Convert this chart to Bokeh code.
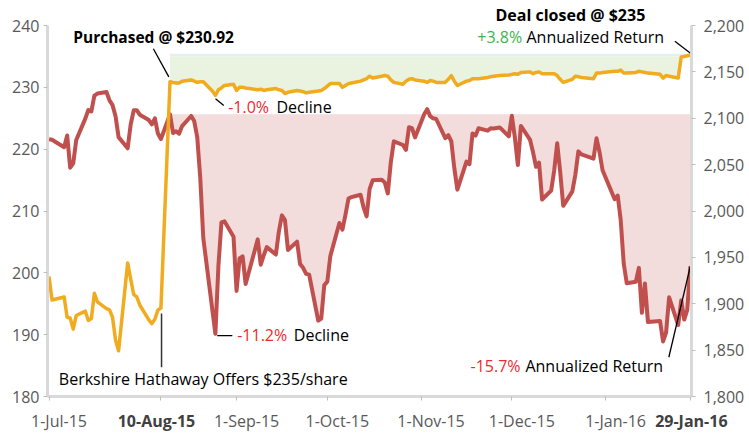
from datetime import date
from bokeh.plotting import figure
from bokeh.models import Range1d, LinearAxis, FixedTicker, NumeralTickFormatter, Label
from bokeh.embed import file_html
from bokeh.resources import INLINE

# ---------------- data ----------------
dates = [
    "2015-07-01", "2015-07-02", "2015-07-06", "2015-07-07", "2015-07-08", "2015-07-09", "2015-07-10",
    "2015-07-13", "2015-07-14", "2015-07-15", "2015-07-16", "2015-07-17", "2015-07-20", "2015-07-21",
    "2015-07-22", "2015-07-23", "2015-07-24", "2015-07-27", "2015-07-28", "2015-07-29", "2015-07-30",
    "2015-07-31",
    "2015-08-03", "2015-08-04", "2015-08-05", "2015-08-06", "2015-08-07", "2015-08-10", "2015-08-11",
    "2015-08-12", "2015-08-13", "2015-08-14", "2015-08-17", "2015-08-18", "2015-08-19", "2015-08-20",
    "2015-08-21", "2015-08-24", "2015-08-25", "2015-08-26", "2015-08-27", "2015-08-28", "2015-08-31",
    "2015-09-01", "2015-09-02", "2015-09-03", "2015-09-04", "2015-09-08", "2015-09-09", "2015-09-10",
    "2015-09-11", "2015-09-14", "2015-09-15", "2015-09-16", "2015-09-17", "2015-09-18", "2015-09-21",
    "2015-09-22", "2015-09-23", "2015-09-24", "2015-09-25", "2015-09-28", "2015-09-29", "2015-09-30",
    "2015-10-01", "2015-10-02", "2015-10-05", "2015-10-06", "2015-10-07", "2015-10-08", "2015-10-09",
    "2015-10-12", "2015-10-13", "2015-10-14", "2015-10-15", "2015-10-16", "2015-10-19", "2015-10-20",
    "2015-10-21", "2015-10-22", "2015-10-23", "2015-10-26", "2015-10-27", "2015-10-28", "2015-10-29",
    "2015-10-30",
    "2015-11-02", "2015-11-03", "2015-11-04", "2015-11-05", "2015-11-06", "2015-11-09", "2015-11-10",
    "2015-11-11", "2015-11-12", "2015-11-13", "2015-11-16", "2015-11-17", "2015-11-18", "2015-11-19",
    "2015-11-20", "2015-11-23", "2015-11-24", "2015-11-25", "2015-11-27", "2015-11-30",
    "2015-12-01", "2015-12-02", "2015-12-03", "2015-12-04", "2015-12-07", "2015-12-08", "2015-12-09",
    "2015-12-10", "2015-12-11", "2015-12-14", "2015-12-15", "2015-12-16", "2015-12-17", "2015-12-18",
    "2015-12-21", "2015-12-22", "2015-12-23", "2015-12-24", "2015-12-28", "2015-12-29", "2015-12-30",
    "2015-12-31",
    "2016-01-04", "2016-01-05", "2016-01-06", "2016-01-07", "2016-01-08", "2016-01-11", "2016-01-12",
    "2016-01-13", "2016-01-14", "2016-01-15", "2016-01-19", "2016-01-20", "2016-01-21", "2016-01-22",
    "2016-01-25", "2016-01-26", "2016-01-27", "2016-01-28", "2016-01-29",
]

# S&P 500 index (right axis)
sp500 = [
    2077.42, 2076.78, 2068.76, 2081.34, 2046.68, 2051.31, 2076.62, 2099.60, 2108.95, 2107.40, 2124.29,
    2126.64, 2128.28, 2119.21, 2114.15, 2102.15, 2079.65, 2067.64, 2093.25, 2108.57, 2108.63, 2103.84,
    2098.04, 2093.32, 2099.84, 2083.56, 2077.57, 2104.18, 2084.07, 2086.05, 2083.39, 2091.54, 2102.44,
    2096.92, 2079.61, 2035.73, 1970.89, 1893.21, 1867.61, 1940.51, 1987.66, 1988.87, 1972.18,
    1913.85, 1948.86, 1951.13, 1921.22, 1969.41, 1942.04, 1952.29, 1961.05, 1953.03, 1978.09, 1995.31,
    1990.20, 1958.03, 1966.97, 1942.74, 1938.76, 1932.24, 1931.34, 1881.77, 1884.09, 1920.03,
    1923.82, 1951.36, 1987.05, 1979.92, 1995.83, 2013.43, 2014.89, 2017.46, 2003.69, 1994.24, 2023.86,
    2033.11, 2033.66, 2030.77, 2018.94, 2052.51, 2075.15, 2071.18, 2065.89, 2090.35, 2089.41, 2079.36,
    2104.05, 2109.79, 2102.31, 2099.93, 2099.20, 2078.58, 2081.72, 2075.00, 2045.97, 2023.04, 2053.19,
    2050.44, 2083.58, 2081.24, 2089.17, 2086.59, 2089.14, 2088.87, 2090.11, 2080.41,
    2102.63, 2079.51, 2049.62, 2091.69, 2077.07, 2063.59, 2047.62, 2052.23, 2012.37, 2021.94, 2043.41,
    2073.07, 2041.89, 2005.55, 2021.15, 2038.97, 2064.29, 2060.99, 2056.50, 2078.36, 2063.36, 2043.94,
    2012.66, 2016.71, 1990.26, 1943.09, 1922.03, 1923.67, 1938.68, 1890.28, 1921.84, 1880.33, 1881.33,
    1859.33, 1868.99, 1906.90, 1877.08, 1903.63, 1882.95, 1893.36, 1940.24,
]

# Precision Castparts share price (left axis)
pcp = [
    199.4, 195.6, 196.1, 192.8, 192.7, 190.9, 193.1, 193.8, 192.3, 192.6, 196.7,
    195.3, 194.2, 194.0, 192.8, 189.1, 187.4, 201.6, 199.0, 196.5, 196.1, 194.8,
    192.4, 191.8, 192.5, 194.0, 194.3, 230.92, 230.8, 230.7, 230.7, 231.0, 231.2,
    231.0, 230.8, 230.9, 230.9, 229.4, 228.7, 229.6, 229.9, 230.3, 230.5,
    229.5, 230.0, 230.0, 229.9, 229.6, 229.7, 229.5, 229.6, 229.8, 229.6, 229.5,
    229.0, 229.2, 229.5, 229.4, 229.3, 229.1, 229.2, 229.4, 229.5, 229.8,
    230.2, 230.6, 230.6, 230.0, 230.3, 230.6, 230.7, 231.0, 231.2, 231.4, 231.8,
    231.5, 231.8, 231.9, 231.8, 231.2, 230.8, 230.5, 231.0, 231.3, 231.4, 231.2,
    231.0, 230.8, 231.1, 231.0, 230.8, 230.8, 231.3, 231.9, 231.0, 230.3, 231.0,
    231.1, 231.4, 231.4, 231.4, 231.6, 231.7, 231.8, 231.9, 232.0,
    232.1, 232.2, 232.1, 232.4, 232.5, 232.2, 232.4, 232.5, 232.2, 232.2, 232.2,
    231.9, 231.3, 230.8, 231.3, 231.8, 231.7, 231.6, 231.4, 232.3, 232.3, 232.4,
    232.6, 232.6, 232.8, 232.3, 232.3, 232.4, 232.6, 232.5, 232.4, 232.3, 232.1,
    231.5, 231.9, 231.8, 231.5, 234.9, 235.0, 235.1, 235.2,
]

purchase_date = "2015-08-10"
purchase_price = 230.92
deal_price = 235.0
offer_date = "2015-08-07"
close_date = "2016-01-29"

left_ticks = [180, 190, 200, 210, 220, 230, 240]
right_ticks = [1800, 1850, 1900, 1950, 2000, 2050, 2100, 2150, 2200]
x_tick_dates = ["2015-07-01", "2015-09-01", "2015-10-01", "2015-11-01", "2015-12-01", "2016-01-01"]
x_tick_labels = ["1-Jul-15", "1-Sep-15", "1-Oct-15", "1-Nov-15", "1-Dec-15", "1-Jan-16"]
bold_tick_dates = [offer_date, close_date]
bold_tick_labels = ["10-Aug-15", "29-Jan-16"]

# ---------------- helpers ----------------
origin = date(2015, 7, 1)


def day(s):
    return (date.fromisoformat(s) - origin).days


days = [day(d) for d in dates]
i0 = dates.index(purchase_date)
days_after = days[i0:]
sp_base = sp500[i0]
sp_after = [min(v, sp_base) for v in sp500[i0:]]
pcp_after = [min(v, deal_price) for v in pcp[i0:]]

FONT = "Open Sans"
RED_LINE = "#c0504d"
ORANGE = "#f0ab1f"
TXT_RED = "#ee2a2f"
TXT_GREEN = "#3cb44b"
AXIS_GREY = "#d9d9d9"
LABEL_GREY = "#595959"

X0, X1 = -0.5, 212.4
p = figure(width=749, height=434, x_range=Range1d(X0, X1), y_range=Range1d(180, 240),
           output_backend="svg", toolbar_location=None,
           min_border_left=47, min_border_right=58, min_border_top=25, min_border_bottom=38)
p.outline_line_color = None
p.grid.visible = False
p.background_fill_color = "white"
p.border_fill_color = "white"
p.extra_y_ranges = {"sp": Range1d(1800, 2200)}

px_per_day = 644 / (X1 - X0)
label_shift = 10 / px_per_day  # labels sit a little right of their tick, as in the original

# title-like annotation above the plot frame
p.title.text = "Deal closed @ $235"
p.title.align = "left"
p.title.offset = 448
p.title.standoff = 0
p.title.text_font = FONT
p.title.text_font_size = "16px"
p.title.text_font_style = "bold"
p.title.text_color = "black"

# ---------------- fills ----------------
p.varea(x=days_after, y1=sp_after, y2=[sp_base] * len(days_after), y_range_name="sp",
        fill_color="#f2dcdc", fill_alpha=1.0)
p.varea(x=days_after, y1=[deal_price] * len(days_after), y2=[deal_price + 0.45] * len(days_after),
        fill_color="#e4eff3", fill_alpha=1.0)
p.varea(x=days_after, y1=pcp_after, y2=[deal_price] * len(days_after),
        fill_color="#e9f3df", fill_alpha=1.0)

# ---------------- lines ----------------
p.line(days, sp500, y_range_name="sp", line_color=RED_LINE, line_width=4, line_join="round")
p.line(days, pcp, line_color=ORANGE, line_width=3.5, line_join="round")


# ---------------- axes ----------------
def style_axis(ax):
    ax.axis_line_color = AXIS_GREY
    ax.axis_line_width = 3
    ax.major_tick_line_color = "#bfbfbf"
    ax.major_tick_line_width = 1
    ax.major_tick_out = 4
    ax.major_tick_in = 0
    ax.minor_tick_line_color = None
    ax.major_label_text_font = FONT
    ax.major_label_text_font_size = "16px"
    ax.major_label_text_color = LABEL_GREY


ya = p.yaxis[0]
ya.ticker = FixedTicker(ticks=left_ticks)
style_axis(ya)
ya.major_label_standoff = 4

ra = LinearAxis(y_range_name="sp", ticker=FixedTicker(ticks=right_ticks),
                formatter=NumeralTickFormatter(format="0,0"))
style_axis(ra)
ra.major_label_standoff = 8
p.add_layout(ra, "right")

xa = p.xaxis[0]
label_pos = [day(d) + label_shift for d in x_tick_dates]
xa.ticker = FixedTicker(ticks=label_pos,
                        minor_ticks=[day(d) for d in x_tick_dates + bold_tick_dates])
style_axis(xa)
xa.major_tick_line_color = None
xa.minor_tick_line_color = "#bfbfbf"
xa.minor_tick_out = 4
xa.minor_tick_in = 0
xa.major_label_standoff = 9
xa.major_label_overrides = {pos: lab for pos, lab in zip(label_pos, x_tick_labels)}

# second (label-only) bottom axis carrying the two bold date labels on the same row
bold_pos = [day(offer_date) - 4.5 / px_per_day, min(day(close_date) + 11 / px_per_day, X1 - 0.05)]
xb = LinearAxis(ticker=FixedTicker(ticks=bold_pos))
xb.major_label_overrides = {pos: lab for pos, lab in zip(bold_pos, bold_tick_labels)}
xb.axis_line_color = None
xb.major_tick_line_color = None
xb.minor_tick_line_color = None
xb.major_tick_out = 0
xb.major_tick_in = 0
xb.minor_tick_out = 0
xb.minor_tick_in = 0
xb.major_label_text_font = FONT
xb.major_label_text_font_size = "16px"
xb.major_label_text_font_style = "bold"
xb.major_label_text_color = "#404040"
xb.major_label_standoff = -25
p.add_layout(xb, "below")


# ---------------- annotations ----------------
def lab(x, y, text, color="black", bold=False, align="left", size="16px"):
    p.add_layout(Label(x=x, y=y, text=text, text_font=FONT, text_font_size=size,
                       text_font_style="bold" if bold else "normal", text_color=color,
                       text_align=align, text_baseline="middle"))


lab(8.0, 238.06, "Purchased @ $230.92", bold=True, size="15.5px")
lab(59.24, 226.82, "-1.0%", color=TXT_RED)
lab(75.2, 226.82, "Decline")
lab(62.21, 189.94, "-11.2%", color=TXT_RED)
lab(80.93, 189.94, "Decline")
lab(3.24, 182.91, "Berkshire Hathaway Offers $235/share")
lab(156.43, 238.11, "+3.8%", color=TXT_GREEN, align="right")
lab(157.85, 238.11, "Annualized Return")
lab(155.87, 184.93, "-15.7%", color=TXT_RED, align="right")
lab(157.5, 184.93, "Annualized Return")

p.segment(x0=[34.5, 55.04, 55.6, 206.9, 204.9], y0=[236.23, 228.14, 189.86, 237.46, 186.35],
          x1=[39.6, 57.78, 60.6, 212.07, 212.07], y1=[231.7, 227.06, 189.86, 235.52, 201.18],
          line_color="black", line_width=1.3)
p.segment(x0=[37.2], y0=[193.42], x1=[37.2], y1=[184.74], line_color="#333333", line_width=1.5)

open("out.html", "w").write(file_html(p, INLINE))
